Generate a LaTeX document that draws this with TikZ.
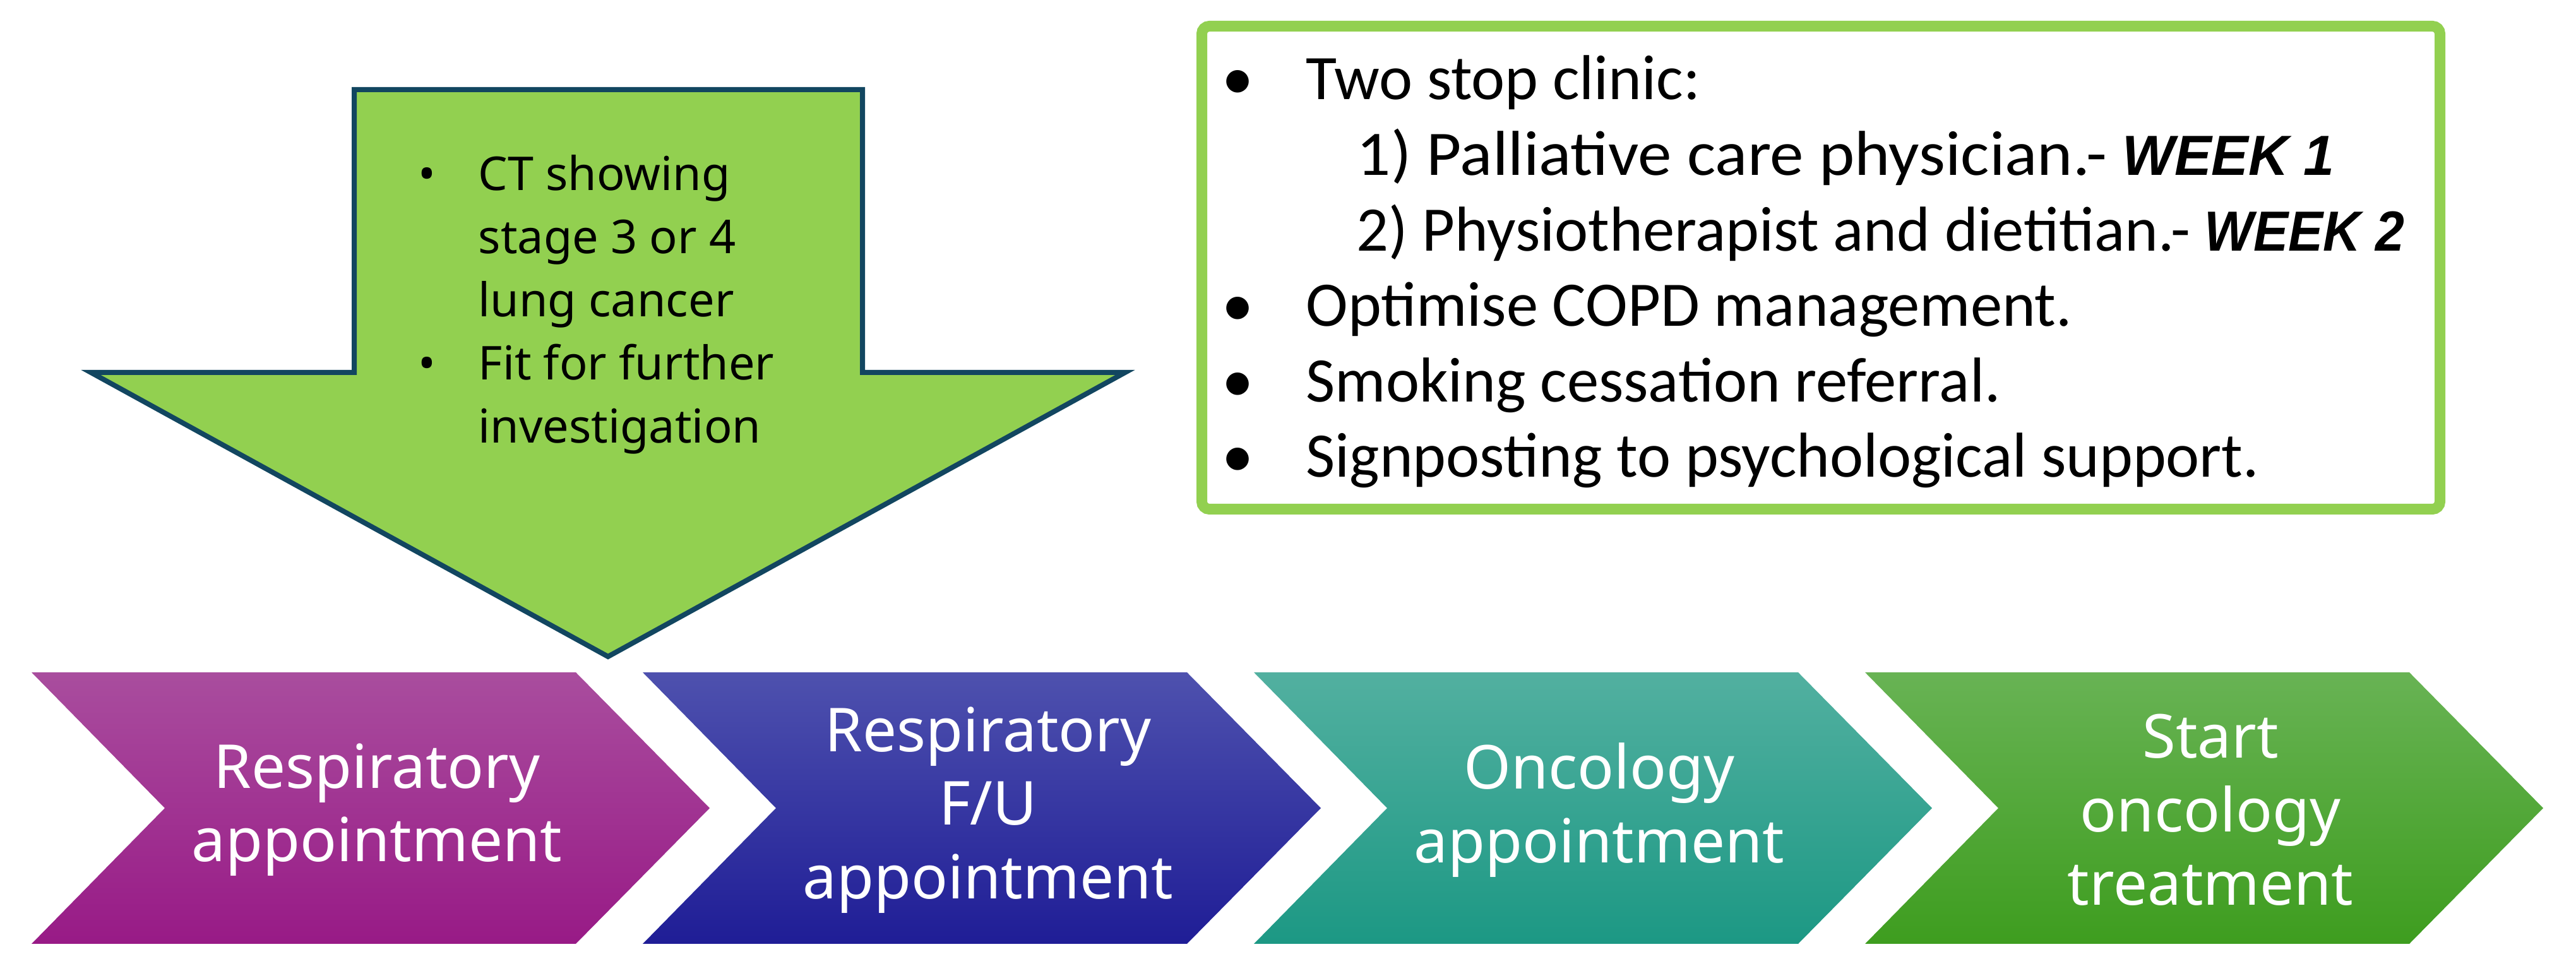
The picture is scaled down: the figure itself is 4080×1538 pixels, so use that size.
\documentclass[tikz,border=0pt]{standalone}
\usepackage{fontspec}
\setmainfont{Carlito}
\newfontfamily\notof{Noto Sans}
\newfontfamily\weekf{Liberation Sans}
\definecolor{arrowgreen}{HTML}{92D050}
\definecolor{arrowedge}{HTML}{124660}
\definecolor{boxgreen}{HTML}{92D050}
\definecolor{cat}{HTML}{A94D9E}\definecolor{cam}{HTML}{A2259A}\definecolor{cab}{HTML}{981A86}
\definecolor{cbt}{HTML}{4E51AE}\definecolor{cbm}{HTML}{2D2CA5}\definecolor{cbb}{HTML}{1F1D96}
\definecolor{cct}{HTML}{52B0A0}\definecolor{ccm}{HTML}{2BA795}\definecolor{ccb}{HTML}{1C9884}
\definecolor{cdt}{HTML}{68B354}\definecolor{cdm}{HTML}{4CA92C}\definecolor{cdb}{HTML}{3E9D1F}
\newcommand{\weektag}[1]{\scalebox{0.92}[1]{\weekf\bfseries\itshape\fontsize{25.5}{34}\selectfont #1}}
\tikzset{
  chevtext/.style={text=white, align=center, inner sep=0pt, font=\notof\fontsize{27.3}{33.1}\selectfont},
  atext/.style={inner sep=0pt, text=black, font=\notof\fontsize{21}{28.4}\selectfont},
  btext/.style={inner sep=0pt, text=black, font=\fontsize{28.6}{34}\selectfont},
  arrowline/.style={draw=arrowedge, line width=0.8mm, fill=arrowgreen, line join=miter},
  boxline/.style={draw=boxgreen, line width=1.7mm, rounded corners=1.2mm, fill=white}
}
\begin{document}
\begin{tikzpicture}[x=0.1mm,y=0.1mm]
\useasboundingbox (0,0) rectangle (4080,1538);
% big down arrow
\draw[arrowline] (561,1396) -- (1366,1396) -- (1366,948) -- (1782,948) -- (963,498) -- (144,948) -- (561,948) -- cycle;
\coordinate (arrowtip) at (963,498);
\node[atext, anchor=base] (ab1) at (676,1236) {•};
\node[atext, anchor=base west] (a1) at (757,1236) {CT showing};
\node[atext, anchor=base west] (a2) at (757,1136) {stage 3 or 4};
\node[atext, anchor=base west] (a3) at (757,1036) {lung cancer};
\node[atext, anchor=base] (ab2) at (676,936) {•};
\node[atext, anchor=base west] (a4) at (757,936) {Fit for further};
\node[atext, anchor=base west] (a5) at (757,836) {investigation};
% top right box
\draw[boxline] (1903.5,731.5) rectangle (3864.5,1496.5);
\node[btext, anchor=base] (bb1) at (1961,1380) {•};
\node[btext, anchor=base west] (b1) at (2068,1380) {Two stop clinic:};
\node[btext, anchor=base west] (b2) at (2148,1260.4) {\scalebox{1.065}[1]{1) Palliative care physician.- \weektag{WEEK 1}}};
\node[btext, anchor=base west] (b3) at (2148,1140.8) {2) Physiotherapist and dietitian.- \weektag{WEEK 2}};
\node[btext, anchor=base] (bb2) at (1961,1021.2) {•};
\node[btext, anchor=base west] (b4) at (2068,1021.2) {Optimise COPD management.};
\node[btext, anchor=base] (bb3) at (1961,901.6) {•};
\node[btext, anchor=base west] (b5) at (2068,901.6) {Smoking cessation referral.};
\node[btext, anchor=base] (bb4) at (1961,782) {•};
\node[btext, anchor=base west] (b6) at (2068,782) {Signposting to psychological support.};
% chevrons
\shade[top color=cat, middle color=cam, bottom color=cab] (50,473) -- (912,473) -- (1124,258) -- (912,43) -- (50,43) -- (261,258) -- cycle;
\node[chevtext] (c1) at (597,255) {Respiratory\\appointment};
\shade[top color=cbt, middle color=cbm, bottom color=cbb] (1018,473) -- (1880,473) -- (2092,258) -- (1880,43) -- (1018,43) -- (1229,258) -- cycle;
\node[chevtext] (c2) at (1565,255) {Respiratory\\F/U\\appointment};
\shade[top color=cct, middle color=ccm, bottom color=ccb] (1986,473) -- (2848,473) -- (3060,258) -- (2848,43) -- (1986,43) -- (2197,258) -- cycle;
\node[chevtext] (c3) at (2533,255) {Oncology\\appointment};
\shade[top color=cdt, middle color=cdm, bottom color=cdb] (2954,473) -- (3816,473) -- (4028,258) -- (3816,43) -- (2954,43) -- (3165,258) -- cycle;
\node[chevtext] (c4) at (3501,255) {Start\\oncology\\treatment};
\end{tikzpicture}
\end{document}
